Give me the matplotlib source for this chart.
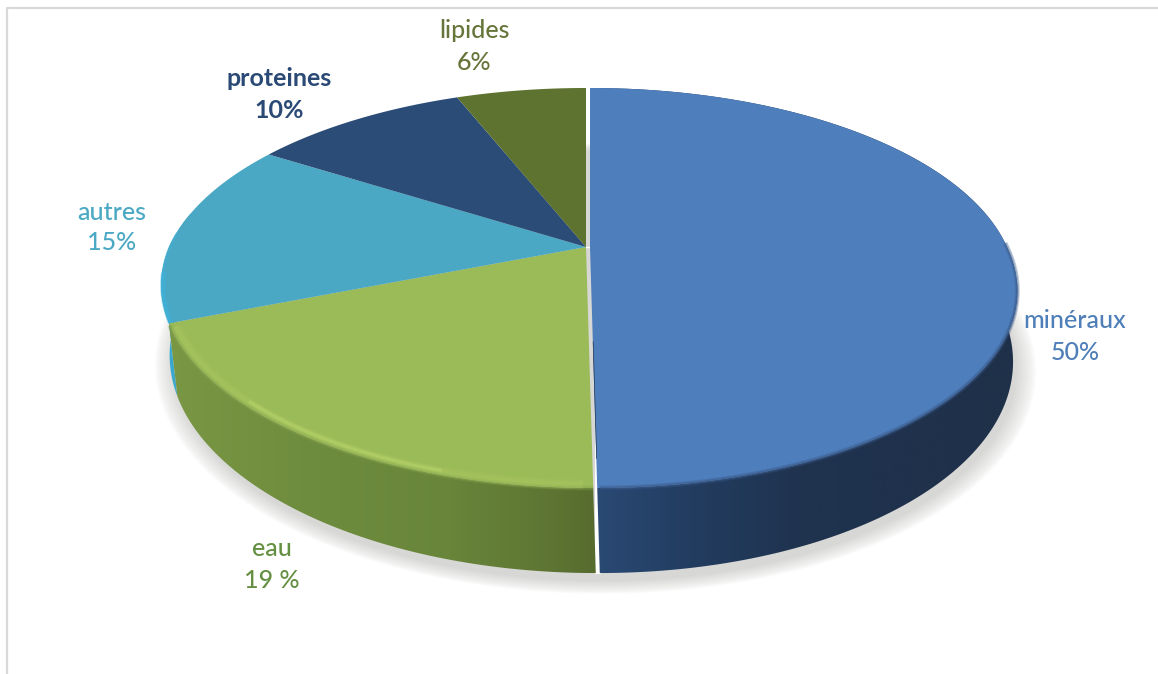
import numpy as np
import matplotlib
matplotlib.use('Agg')
import matplotlib.pyplot as plt
from matplotlib.patches import Polygon
from matplotlib.colors import LinearSegmentedColormap

categories = ['minéraux', 'eau', 'autres', 'proteines', 'lipides']
values = [50, 19, 15, 10, 6]
pct_labels = ['50%', '19 %', '15%', '10%', '6%']

top_colors = ['#4e7ebb', '#9bbb59', '#4aa8c4', '#2b4c76', '#5f7330']
text_colors = ['#4f7fb8', '#659043', '#4ba9c4', '#2a4a75', '#66763a']
label_pos = [(1075, 320), (272, 548), (112, 212), (279, 78), (474, 31)]
pct_pos = [(1075, 352), (272, 581), (112, 243), (279, 110), (474, 62)]

# pie geometry in pixels, perspective tilt k
CX, CY = 588, 247
RX, RY = 417, 191.6
K = 0.205
DEPTH = 67.6
SHEAR = 0.03


def project(theta, r=1.0, shift=0.0, bottom=False):
    u = r * np.sin(theta)
    v = -r * np.cos(theta)
    s = 1 / (1 - K * v)
    x = RX * u * s
    y = RY * v * s
    if bottom:
        x = x * 0.985
        y = y + DEPTH * s
    x = x + np.maximum(y, 0) * SHEAR
    return CX + shift + x, CY + y


def rim(a0, a1, shift, bottom=False):
    t = np.linspace(a0, a1, 240)
    x, y = project(t, shift=shift, bottom=bottom)
    return np.column_stack([x, y])


def gradient_side(ax, pts, xs, cols):
    # horizontal colour ramp clipped to the side wall
    cmap = LinearSegmentedColormap.from_list(
        'side', [((x - xs[0]) / (xs[-1] - xs[0]), c) for x, c in zip(xs, cols)])
    grad = np.linspace(0, 1, 512).reshape(1, -1)
    im = ax.imshow(grad, extent=(xs[0], xs[-1], 674, 0), cmap=cmap, aspect='auto', zorder=3)
    patch = Polygon(pts, closed=True, transform=ax.transData, fc='none', ec='none')
    ax.add_patch(patch)
    im.set_clip_path(patch)


fig = plt.figure(figsize=(11.58, 6.74), dpi=100)
ax = fig.add_axes([0, 0, 1, 1])
ax.axis('off')

plt.rcParams['font.family'] = ['Lato', 'DejaVu Sans']

# frame on the top and left only
ax.plot([7, 7, 1157], [674, 8, 8], color='#d9d9d9', lw=1.6, zorder=1)

# soft shadow under the pie
base = rim(0, 2 * np.pi, 0, bottom=True)
sx, sy = CX + 4, CY + 55
for i in range(18):
    grow = 1 + 0.0028 * (18 - i)
    shadow = np.column_stack([sx + (base[:, 0] - CX) * grow, sy + (base[:, 1] - CY - 55 + 4) * grow + 3])
    ax.add_patch(Polygon(shadow, closed=True, fc='#a0a098', ec='none', alpha=0.025, zorder=2))

bounds = np.cumsum([0] + values) / sum(values) * 2 * np.pi
shifts = [2, -2, -2, -2, -2]

# white gap between the two halves, over the shadow
ang = np.array([np.pi, np.pi])
gap_l = project(ang, shift=shifts[1], bottom=True)
gap_r = project(ang, shift=shifts[0], bottom=True)
ax.add_patch(Polygon([(gap_l[0][0], CY), (gap_r[0][0], CY), (gap_r[0][0] + 1, gap_r[1][0] + 1),
                      (gap_l[0][0] - 1, gap_l[1][0] + 1)], closed=True, fc='white', ec='none', zorder=2.5))
ax.plot([CX - 2, CX + 2], [CY, CY], color='white', lw=1, zorder=2.5)

# side walls, back to front
side_style = {
    2: ([150, 190], ['#3fb0d8', '#38a4c8']),
    1: ([165, 300, 450, 540, 600], ['#7a9744', '#6f8d3e', '#68853a', '#5f7734', '#566b2e']),
    0: ([590, 680, 800, 1020], ['#2a4a75', '#233e62', '#1f334f', '#1f3049']),
}
for idx in [2, 1, 0]:
    a0, a1 = bounds[idx], bounds[idx + 1]
    top = rim(a0, a1, shifts[idx])
    low = rim(a0, a1, shifts[idx], bottom=True)
    xs, cols = side_style[idx]
    gradient_side(ax, np.vstack([top, low[::-1]]), xs, cols)

# top faces
for idx in range(len(values)):
    a0, a1 = bounds[idx], bounds[idx + 1]
    edge = rim(a0, a1, shifts[idx])
    cx0, cy0 = project(np.array([0.0]), r=0.0, shift=shifts[idx])
    pts = np.vstack([[cx0[0], cy0[0]], edge])
    ax.add_patch(Polygon(pts, closed=True, fc=top_colors[idx], ec='none', zorder=5))


# bevel along the front rim
def bevel(idx, a0, a1, color, widths, alpha, inset=0.0):
    t = np.linspace(a0, a1, 240)
    x, y = project(t, r=1 - inset, shift=shifts[idx])
    for w in widths:
        ax.plot(x, y, color=color, lw=w, alpha=alpha, zorder=6, solid_capstyle='butt')


bevel(1, bounds[1], bounds[2] - 0.01, '#86a44c', [3.5, 2], 0.3)
bevel(1, bounds[1] + 0.02, bounds[2] - 0.02, '#b4d266', [7, 5, 3.5], 0.13, inset=0.012)
bevel(1, bounds[1] + 0.3, bounds[2] - 0.4, '#c4e074', [3.5, 2.2, 1.2], 0.16, inset=0.014)
bevel(0, 1.55, bounds[1] - 0.005, '#38598a', [3.5, 2], 0.3)
bevel(0, 1.75, bounds[1] - 0.005, '#38598a', [1.5], 0.3)
bevel(2, bounds[2], bounds[2] + 0.25, '#3fb2dc', [4, 2.5], 0.35, inset=0.004)
bevel(2, bounds[2], bounds[2] + 0.45, '#3fb2dc', [2.5], 0.3, inset=0.003)

# thin dark seam on the blue slice next to the gap
t = np.array([np.pi])
sx0, sy0 = project(t, r=0.45, shift=2)
ex0, ey0 = project(t, r=0.9, shift=2)
ax.plot([sx0[0] + 0.3, ex0[0] + 0.3], [sy0[0], ey0[0]], color='#1f3552', lw=0.5, zorder=6)

for name, pct, col, p1, p2 in zip(categories, pct_labels, text_colors, label_pos, pct_pos):
    weight = 'bold' if name == 'proteines' else 'medium'
    ax.text(p1[0], p1[1], name, color=col, fontsize=18, fontweight=weight, ha='center', va='center', zorder=8)
    ax.text(p2[0], p2[1], pct, color=col, fontsize=18, fontweight=weight, ha='center', va='center', zorder=8)

ax.set_xlim(0, 1158)
ax.set_ylim(674, 0)
fig.savefig('out.png', dpi=100, facecolor='white')
